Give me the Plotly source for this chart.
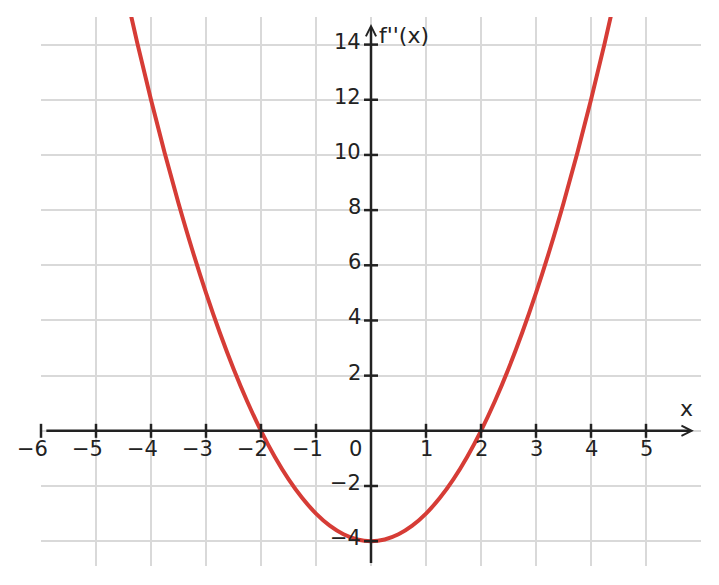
import plotly.graph_objects as go

# Curve samples (f''(x))
curve_x = [-4.5, -4.25, -4.0, -3.75, -3.5, -3.25, -3.0, -2.75, -2.5, -2.25, -2.0,
           -1.75, -1.5, -1.25, -1.0, -0.75, -0.5, -0.25, 0.0,
           0.25, 0.5, 0.75, 1.0, 1.25, 1.5, 1.75, 2.0, 2.25, 2.5, 2.75,
           3.0, 3.25, 3.5, 3.75, 4.0, 4.25, 4.5]
curve_y = [16.25, 14.0625, 12.0, 10.0625, 8.25, 6.5625, 5.0, 3.5625, 2.25, 1.0625, 0.0,
           -0.9375, -1.75, -2.4375, -3.0, -3.4375, -3.75, -3.9375, -4.0,
           -3.9375, -3.75, -3.4375, -3.0, -2.4375, -1.75, -0.9375, 0.0, 1.0625, 2.25, 3.5625,
           5.0, 6.5625, 8.25, 10.0625, 12.0, 14.0625, 16.25]

x_ticks = [-6, -5, -4, -3, -2, -1, 1, 2, 3, 4, 5]
x_tick_labels = ["−6", "−5", "−4", "−3", "−2", "−1", "1", "2", "3", "4", "5"]
y_ticks = [-4, -2, 2, 4, 6, 8, 10, 12, 14]
y_tick_labels = ["−4", "−2", "2", "4", "6", "8", "10", "12", "14"]
x_label = "x"
y_label = "f''(x)"

X_RANGE = [-6, 6]
Y_RANGE = [-4.9, 15.0]
AX_COLOR = "#222222"
CURVE_COLOR = "#d63c36"
FONT = "DejaVu Sans"
TICK_SIZE = 21
LABEL_SIZE = 22

fig = go.Figure()

# curve
fig.add_trace(go.Scatter(x=curve_x, y=curve_y, mode="lines",
                         line=dict(color=CURVE_COLOR, width=4, shape="spline"),
                         hoverinfo="skip", showlegend=False))

# tick marks on the axes
fig.add_trace(go.Scatter(x=x_ticks, y=[0] * len(x_ticks), mode="markers",
                         marker=dict(symbol="line-ns", size=10,
                                     line=dict(color=AX_COLOR, width=2.5)),
                         hoverinfo="skip", showlegend=False, cliponaxis=False))
fig.add_trace(go.Scatter(x=[0] * len(y_ticks), y=y_ticks, mode="markers",
                         marker=dict(symbol="line-ew", size=10,
                                     line=dict(color=AX_COLOR, width=2.5)),
                         hoverinfo="skip", showlegend=False, cliponaxis=False))

annotations = []
# axis lines with arrows
annotations.append(dict(x=5.87, y=0, ax=-5.93, ay=0, xref="x", yref="y",
                        axref="x", ayref="y", showarrow=True, arrowhead=5,
                        arrowwidth=2.5, arrowsize=0.8, arrowcolor=AX_COLOR, text=""))
annotations.append(dict(x=0, y=14.75, ax=0, ay=-4.85, xref="x", yref="y",
                        axref="x", ayref="y", showarrow=True, arrowhead=5,
                        arrowwidth=2.5, arrowsize=0.8, arrowcolor=AX_COLOR, text=""))

for v, t in zip(x_ticks, x_tick_labels):
    shift = -8.5 if t.startswith("−") else 0
    annotations.append(dict(x=v, y=0, xref="x", yref="y", text=t, showarrow=False,
                            xanchor="center", yanchor="middle", yshift=-18.5, xshift=shift,
                            font=dict(family=FONT, size=TICK_SIZE, color=AX_COLOR)))
annotations.append(dict(x=0, y=0, xref="x", yref="y", text="0", showarrow=False,
                        xanchor="center", yanchor="middle", yshift=-18.5, xshift=-16,
                        font=dict(family=FONT, size=TICK_SIZE, color=AX_COLOR)))
for v, t in zip(y_ticks, y_tick_labels):
    annotations.append(dict(x=0, y=v, xref="x", yref="y", text=t, showarrow=False,
                            xanchor="right", yanchor="middle", xshift=-8, yshift=3,
                            font=dict(family=FONT, size=TICK_SIZE, color=AX_COLOR)))

annotations.append(dict(x=5.73, y=0, xref="x", yref="y", text=x_label, showarrow=False,
                        xanchor="center", yanchor="middle", yshift=22,
                        font=dict(family=FONT, size=LABEL_SIZE, color=AX_COLOR)))
annotations.append(dict(x=0, y=14, xref="x", yref="y", text=y_label, showarrow=False,
                        xanchor="left", yanchor="middle", xshift=6, yshift=9,
                        font=dict(family=FONT, size=LABEL_SIZE, color=AX_COLOR)))

fig.update_layout(
    width=719, height=585,
    margin=dict(l=41, r=18, t=17, b=19),
    paper_bgcolor="white", plot_bgcolor="white",
    annotations=annotations,
    showlegend=False,
    xaxis=dict(range=X_RANGE, dtick=1, tick0=-6, showgrid=True, gridcolor="#d9d9d9",
               gridwidth=1.5, zeroline=False, showticklabels=False, showline=False,
               ticks="", fixedrange=True),
    yaxis=dict(range=Y_RANGE, dtick=2, tick0=0, showgrid=True, gridcolor="#d9d9d9",
               gridwidth=1.5, zeroline=False, showticklabels=False, showline=False,
               ticks="", fixedrange=True),
)

fig.write_html("out.html")
